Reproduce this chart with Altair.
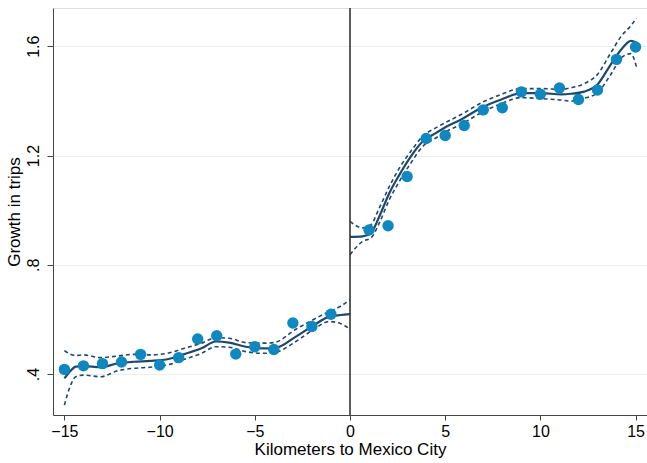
import altair as alt
import pandas as pd

# Binned scatter points
bin_x_left = [-15, -14, -13, -12, -11, -10, -9, -8, -7, -6, -5, -4, -3, -2, -1]
bin_y_left = [0.417, 0.430, 0.438, 0.444, 0.472, 0.433, 0.460, 0.528, 0.540, 0.473,
              0.500, 0.490, 0.587, 0.574, 0.619]
bin_x_right = [1, 2, 3, 4, 5, 6, 7, 8, 9, 10, 11, 12, 13, 14, 15]
bin_y_right = [0.927, 0.943, 1.123, 1.262, 1.273, 1.310, 1.367, 1.375, 1.433, 1.424,
               1.447, 1.405, 1.440, 1.552, 1.597]

# Fitted polynomial and confidence bands, left of cutoff
fit_x_left = [-15, -14.7, -14.4, -14.0, -13.1, -12.2, -11.35, -10.5, -9.6, -8.7, -7.8,
              -7.05, -6.35, -5.47, -4.6, -4.0, -2.84, -1.96, -1.09, -0.5, 0]
fit_left = [0.384, 0.410, 0.427, 0.429, 0.425, 0.439, 0.445, 0.448, 0.454, 0.473, 0.494,
            0.519, 0.515, 0.500, 0.494, 0.494, 0.537, 0.576, 0.610, 0.616, 0.619]
lo_left = [0.286, 0.355, 0.390, 0.396, 0.390, 0.412, 0.421, 0.425, 0.433, 0.454, 0.476,
           0.500, 0.498, 0.482, 0.476, 0.478, 0.519, 0.561, 0.592, 0.585, 0.564]
hi_left = [0.486, 0.473, 0.468, 0.470, 0.460, 0.466, 0.472, 0.470, 0.476, 0.494, 0.513,
           0.533, 0.531, 0.515, 0.513, 0.515, 0.564, 0.598, 0.629, 0.648, 0.672]

# Fitted polynomial and confidence bands, right of cutoff
fit_x_right = [0, 0.67, 1.1, 1.54, 2.07, 2.6, 3.2, 3.83, 4.53, 5.05, 5.84, 6.9, 7.95,
               9.0, 10.05, 11.1, 11.6, 12.3, 13.0, 13.7, 14.26, 14.75, 15.05]
fit_right = [0.902, 0.904, 0.916, 0.977, 1.063, 1.130, 1.197, 1.252, 1.283, 1.305, 1.332,
             1.375, 1.405, 1.428, 1.428, 1.424, 1.426, 1.434, 1.460, 1.534, 1.589, 1.620,
             1.613]
lo_right = [0.837, 0.886, 0.898, 0.953, 1.039, 1.106, 1.173, 1.234, 1.265, 1.288, 1.314,
            1.357, 1.390, 1.412, 1.408, 1.403, 1.399, 1.409, 1.430, 1.497, 1.558, 1.573,
            1.524]
hi_right = [0.959, 0.935, 0.947, 1.008, 1.087, 1.155, 1.216, 1.271, 1.302, 1.322, 1.350,
            1.393, 1.424, 1.445, 1.445, 1.442, 1.448, 1.463, 1.497, 1.576, 1.638, 1.675,
            1.703]

x_ticks = [-15, -10, -5, 0, 5, 10, 15]
y_ticks = [0.4, 0.8, 1.2, 1.6]

pts = pd.DataFrame({"x": bin_x_left + bin_x_right, "y": bin_y_left + bin_y_right})

rows = []
for side, xs, f, lo, hi in [("L", fit_x_left, fit_left, lo_left, hi_left),
                            ("R", fit_x_right, fit_right, lo_right, hi_right)]:
    for xv, fv, lv, hv in zip(xs, f, lo, hi):
        rows.append({"x": xv, "y": fv, "grp": side + "fit"})
        rows.append({"x": xv, "y": lv, "grp": side + "lo"})
        rows.append({"x": xv, "y": hv, "grp": side + "hi"})
fits = pd.DataFrame(rows)
fit_df = fits[fits["grp"].str.endswith("fit")]
ci_df = fits[~fits["grp"].str.endswith("fit")]

FONT = "Liberation Sans"
NAVY = "#1f4870"
DOT = "#0f87c1"

xscale = alt.Scale(domain=[-15.6, 15.6], nice=False, zero=False)
yscale = alt.Scale(domain=[0.25, 1.74], nice=False, zero=False)

xaxis = alt.Axis(values=x_ticks, title="Kilometers to Mexico City", grid=False,
                 labelFontSize=16, titleFontSize=17, labelFont=FONT, titleFont=FONT,
                 labelColor="black", titleColor="black", titleFontWeight="normal",
                 tickSize=5, tickColor="#444", domainColor="#444", labelPadding=3,
                 titlePadding=2, labelFlush=False)
yaxis = alt.Axis(values=y_ticks, title="Growth in trips", grid=True, gridColor="#e7eff2",
                 gridWidth=1.2,
                 labelExpr="datum.value < 1 ? substring(format(datum.value, '.1f'), 1) : format(datum.value, '.1f')",
                 labelAngle=270, labelAlign="center", labelBaseline="bottom",
                 labelFontSize=16, titleFontSize=17, labelFont=FONT, titleFont=FONT,
                 labelColor="black", titleColor="black", titleFontWeight="normal",
                 tickSize=6, tickColor="#444", domainColor="#444", labelPadding=6,
                 titlePadding=2)

base_x = alt.X("x:Q", scale=xscale, axis=xaxis)
base_y = alt.Y("y:Q", scale=yscale, axis=yaxis)

ci = alt.Chart(ci_df).mark_line(color=NAVY, strokeWidth=1.6, strokeDash=[4, 3],
                                interpolate="monotone").encode(
    x=base_x, y=base_y, detail="grp:N")
fit = alt.Chart(fit_df).mark_line(color=NAVY, strokeWidth=2.2,
                                  interpolate="monotone").encode(
    x=base_x, y=base_y, detail="grp:N")
dots = alt.Chart(pts).mark_circle(color=DOT, size=130, opacity=1).encode(x=base_x, y=base_y)
vline = alt.Chart(pd.DataFrame({"x": [0]})).mark_rule(color="#333", strokeWidth=1.6).encode(
    x=alt.X("x:Q", scale=xscale))

chart = alt.layer(ci, fit, dots, vline).properties(
    width=594, height=407,
    autosize=alt.AutoSizeParams(type="none"),
    padding={"left": 53, "top": 8, "right": 0, "bottom": 48},
).configure_view(stroke=None).configure(background="white")

chart.save("out.html", embed_options={"renderer": "svg", "actions": False})
